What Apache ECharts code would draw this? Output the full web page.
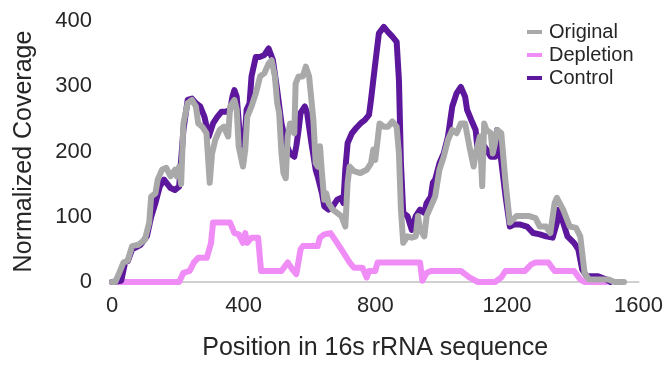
<!DOCTYPE html>
<html>
<head>
<meta charset="utf-8">
<script src="https://cdn.jsdelivr.net/npm/echarts@6/dist/echarts.min.js"></script>
<style>
  html, body { margin: 0; padding: 0; background: #fff; }
  #chart { width: 666px; height: 366px; }
</style>
</head>
<body>
<div id="chart"></div>
<script>
// positions along the 16s rRNA sequence and coverage values
const controlPos = [0, 28, 40, 48, 61, 87, 106, 119, 132, 145, 158, 178, 191, 204, 210, 217, 230, 243, 255, 268, 281, 294, 307, 320, 333, 346, 359, 366, 372, 379, 392, 398, 409, 418, 424, 437, 450, 463, 476, 482, 489, 502, 515, 528, 541, 554, 560, 567, 573, 586, 593, 606, 619, 625, 638, 645, 658, 671, 684, 697, 703, 709, 716, 729, 742, 755, 768, 781, 787, 800, 811, 826, 839, 852, 865, 872, 878, 885, 898, 911, 923, 936, 949, 956, 969, 975, 982, 995, 1008, 1021, 1034, 1047, 1060, 1073, 1079, 1092, 1105, 1112, 1125, 1138, 1151, 1164, 1170, 1180, 1196, 1209, 1222, 1241, 1261, 1280, 1300, 1319, 1339, 1352, 1358, 1371, 1384, 1404, 1417, 1429, 1442, 1475, 1501, 1514];
const controlVal = [0, 2, 30, 32, 50, 57, 70, 100, 121, 146, 157, 144, 141, 146, 143, 233, 279, 281, 274, 269, 253, 223, 243, 253, 261, 261, 264, 284, 294, 284, 203, 182, 264, 274, 315, 345, 345, 348, 358, 360, 340, 294, 243, 213, 197, 192, 208, 233, 259, 269, 259, 213, 172, 162, 136, 116, 111, 116, 126, 129, 121, 172, 213, 228, 236, 243, 248, 256, 279, 335, 381, 391, 383, 376, 368, 309, 182, 106, 101, 80, 101, 111, 106, 121, 131, 152, 157, 182, 197, 223, 269, 289, 299, 284, 264, 248, 233, 197, 213, 203, 192, 192, 233, 197, 131, 85, 88, 88, 85, 75, 73, 70, 68, 91, 111, 91, 70, 60, 50, 19, 9, 9, 4, 0];

const originalPos = [0, 10, 22, 35, 48, 61, 80, 100, 113, 119, 132, 139, 152, 165, 178, 191, 197, 204, 210, 217, 230, 243, 255, 262, 274, 287, 297, 304, 314, 327, 340, 353, 359, 372, 379, 385, 398, 405, 411, 424, 437, 450, 463, 476, 485, 495, 502, 508, 515, 521, 528, 534, 541, 547, 554, 558, 567, 580, 589, 599, 612, 619, 625, 632, 638, 645, 651, 658, 671, 684, 697, 709, 716, 722, 735, 755, 774, 787, 794, 800, 813, 826, 839, 852, 865, 872, 878, 885, 898, 911, 923, 930, 936, 949, 956, 969, 982, 995, 1008, 1021, 1034, 1047, 1060, 1073, 1086, 1099, 1105, 1118, 1125, 1131, 1138, 1151, 1157, 1164, 1170, 1183, 1196, 1209, 1229, 1248, 1268, 1287, 1300, 1319, 1332, 1345, 1352, 1371, 1391, 1410, 1423, 1436, 1449, 1488, 1508, 1527, 1556];
const originalVal = [0, 0, 14, 30, 33, 55, 57, 65, 91, 131, 136, 157, 172, 175, 162, 172, 162, 177, 150, 243, 274, 279, 269, 243, 238, 228, 152, 197, 218, 233, 238, 223, 269, 279, 264, 208, 177, 203, 253, 269, 289, 315, 320, 335, 340, 315, 274, 259, 197, 167, 159, 223, 243, 233, 228, 304, 315, 315, 330, 315, 248, 182, 177, 208, 167, 126, 136, 121, 111, 106, 101, 85, 152, 177, 170, 167, 172, 182, 203, 187, 243, 238, 238, 246, 238, 197, 111, 60, 70, 68, 70, 101, 80, 70, 101, 116, 131, 172, 192, 218, 233, 228, 243, 243, 208, 177, 197, 223, 147, 243, 233, 228, 197, 213, 233, 228, 152, 91, 101, 101, 101, 98, 85, 85, 75, 121, 129, 111, 85, 83, 70, 14, 4, 4, 4, 0, 0];

const depletionPos = [0, 204, 217, 236, 249, 262, 288, 301, 307, 359, 372, 385, 398, 405, 411, 424, 444, 453, 515, 534, 547, 560, 573, 580, 625, 632, 645, 664, 684, 697, 722, 735, 761, 774, 781, 800, 807, 923, 936, 943, 956, 969, 1060, 1086, 1112, 1164, 1183, 1196, 1255, 1274, 1287, 1326, 1345, 1404, 1423, 1436, 1501];
const depletionVal = [0, 0, 14, 17, 30, 37, 37, 60, 91, 91, 75, 73, 60, 75, 60, 68, 68, 17, 17, 30, 20, 12, 50, 55, 55, 68, 73, 75, 60, 50, 30, 22, 22, 7, 17, 17, 30, 30, 30, 2, 14, 17, 17, 7, 0, 0, 7, 17, 17, 27, 30, 30, 17, 17, 4, 0, 0];

const xTicks = [0, 400, 800, 1200, 1600];
const yTicks = [0, 100, 200, 300, 400];

const pairs = (xs, ys) => xs.map((x, i) => [x, ys[i]]);

const FONT = 'Liberation Sans';
const TEXT = '#262626';

const lineSeries = (name, color, xs, ys) => ({
    name: name,
    type: 'line',
    data: pairs(xs, ys),
    showSymbol: false,
    symbol: 'none',
    smooth: false,
    lineStyle: { color: color, width: 6, cap: 'round', join: 'round' },
    itemStyle: { color: color },
    emphasis: { disabled: true }
});

const chart = echarts.init(document.getElementById('chart'));

chart.setOption({
    backgroundColor: '#ffffff',
    animation: false,
    grid: { left: 112, right: 26, top: 21, bottom: 80, containLabel: false },
    legend: {
        orient: 'vertical',
        left: 522,
        top: 17,
        itemGap: 3,
        itemWidth: 15,
        itemHeight: 4,
        icon: 'rect',
        data: ['Original', 'Depletion', 'Control'],
        textStyle: { fontFamily: FONT, fontSize: 20, color: TEXT, lineHeight: 20, padding: [0, 0, 0, 2] }
    },
    xAxis: {
        type: 'value',
        min: xTicks[0],
        max: xTicks[xTicks.length - 1],
        interval: 400,
        name: 'Position in 16s rRNA sequence',
        nameLocation: 'middle',
        nameGap: 54,
        nameTextStyle: { fontFamily: FONT, fontSize: 25, color: TEXT },
        axisLine: { show: true, onZero: false, lineStyle: { color: '#d0d0d0', width: 2 } },
        axisTick: { show: false },
        splitLine: { show: false },
        axisLabel: { fontFamily: FONT, fontSize: 22, color: TEXT, margin: 13, formatter: v => String(v) }
    },
    yAxis: {
        type: 'value',
        min: yTicks[0],
        max: yTicks[yTicks.length - 1],
        interval: 100,
        name: 'Normalized Coverage',
        nameLocation: 'middle',
        nameGap: 75,
        nameTextStyle: { fontFamily: FONT, fontSize: 25, color: TEXT },
        axisLine: { show: false },
        axisTick: { show: false },
        splitLine: { show: false },
        axisLabel: { fontFamily: FONT, fontSize: 22, color: TEXT, margin: 20 }
    },
    series: [
        lineSeries('Depletion', '#f08cf6', depletionPos, depletionVal),
        lineSeries('Control', '#5c179c', controlPos, controlVal),
        lineSeries('Original', '#a9a9a9', originalPos, originalVal)
    ]
});
</script>
</body>
</html>
